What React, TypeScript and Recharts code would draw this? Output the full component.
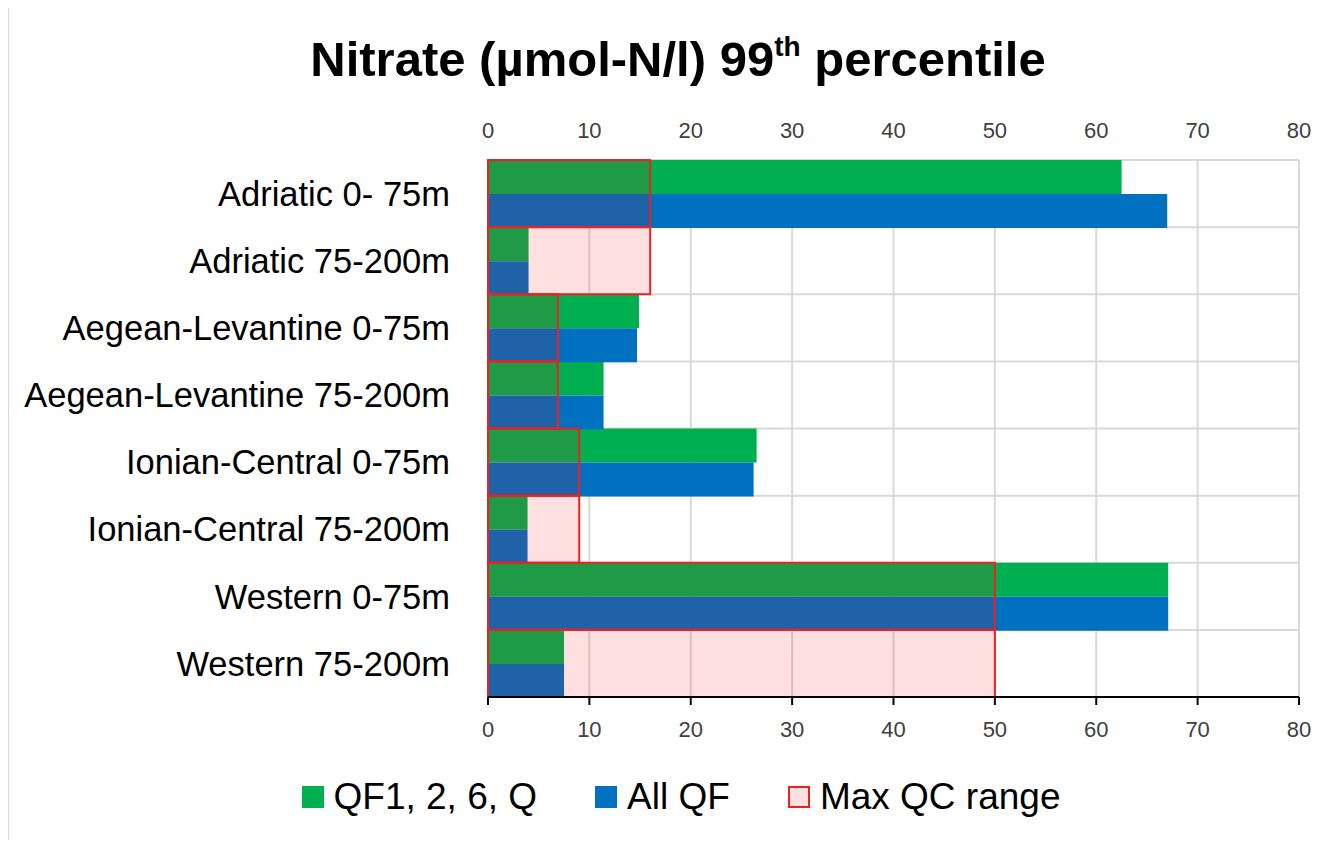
import React from 'react'
import { BarChart, Bar, XAxis, YAxis, CartesianGrid } from 'recharts'

// regions / depth layers, top to bottom
const categories = [
  'Adriatic 0- 75m',
  'Adriatic 75-200m',
  'Aegean-Levantine 0-75m',
  'Aegean-Levantine 75-200m',
  'Ionian-Central 0-75m',
  'Ionian-Central 75-200m',
  'Western 0-75m',
  'Western 75-200m',
]

// 99th percentile values (µmol-N/l)
const qfGood = [62.5, 4.0, 14.9, 11.4, 26.5, 3.9, 67.1, 7.5]
const qfAll = [67.0, 4.0, 14.7, 11.4, 26.2, 3.9, 67.1, 7.5]
const maxQcRange = [16, 16, 6.9, 6.9, 9, 9, 50, 50]

const xTicks = [0, 10, 20, 30, 40, 50, 60, 70, 80]

const seriesNames = ['QF1, 2, 6, Q', 'All QF', 'Max QC range']

const data = categories.map((name, i) => ({
  name,
  qf: qfGood[i],
  all: qfAll[i],
  qc: maxQcRange[i],
}))

const FONT = "'Liberation Sans', Arial, sans-serif"
const GREEN = '#00B050'
const BLUE = '#0070C0'
const GRID = '#d9d9d9'

// grid lines on the category boundaries, not the band centres
const bandLines = ({ offset }: any) => {
  const step = offset.height / categories.length
  return categories.map((_, i) => offset.top + i * step).concat(offset.top + offset.height)
}

const LegendItem = ({ color, border, label }: { color: string; border?: string; label: string }) => (
  <div style={{ display: 'flex', alignItems: 'center', gap: 10 }}>
    <span
      style={{
        display: 'inline-block',
        width: 22,
        height: 22,
        boxSizing: 'border-box',
        background: color,
        border: border ? `2px solid ${border}` : 'none',
      }}
    />
    <span>{label}</span>
  </div>
)

export default function App() {
  return (
    <div
      style={{
        position: 'relative',
        width: 1325,
        height: 848,
        margin: -8,
        overflow: 'hidden',
        background: '#fff',
        fontFamily: FONT,
      }}
    >
      <div
        style={{
          position: 'absolute',
          left: 7,
          top: 2,
          right: 0,
          bottom: 0,
          borderTop: `2px solid ${GRID}`,
          borderLeft: `2px solid ${GRID}`,
        }}
      />
      <div
        style={{
          position: 'absolute',
          top: 29,
          left: 0,
          width: 1356,
          textAlign: 'center',
          fontWeight: 'bold',
          fontSize: 49,
          lineHeight: '60px',
          color: '#000',
        }}
      >
        Nitrate (µmol-N/l) 99<sup style={{ fontSize: 28, verticalAlign: 20, lineHeight: 0 }}>th</sup> percentile
      </div>

      <div style={{ position: 'absolute', left: 0, top: 0 }}>
        <BarChart
          layout="vertical"
          width={1325}
          height={848}
          data={data}
          margin={{ top: 120, right: 26, bottom: 111, left: 18 }}
          barCategoryGap={0}
          barGap={0}
        >
          <CartesianGrid
            xAxisId="bottom"
            yAxisId="main"
            stroke={GRID}
            strokeWidth={2}
            horizontalCoordinatesGenerator={bandLines}
          />
          <XAxis
            xAxisId="bottom"
            type="number"
            orientation="bottom"
            domain={[0, 80]}
            ticks={xTicks}
            interval={0}
            height={40}
            fontSize={22}
            axisLine={{ stroke: '#000', strokeWidth: 2 }}
            tickLine={{ stroke: '#000', strokeWidth: 2 }}
            tickSize={8}
            tickMargin={16}
            tick={{ fontSize: 22, fill: '#404040', fontFamily: FONT }}
          />
          <XAxis
            xAxisId="top"
            type="number"
            orientation="top"
            domain={[0, 80]}
            ticks={xTicks}
            interval={0}
            height={40}
            fontSize={22}
            axisLine={false}
            tickLine={false}
            tickSize={0}
            tickMargin={22}
            tick={{ fontSize: 22, fill: '#404040', fontFamily: FONT }}
          />
          <YAxis
            yAxisId="main"
            type="category"
            dataKey="name"
            width={470}
            interval={0}
            axisLine={false}
            tickLine={false}
            tickSize={0}
            tickMargin={38}
            fontSize={34.5}
            tick={{ fontSize: 34.5, fill: '#000', fontFamily: FONT }}
          />
          <YAxis yAxisId="qc" type="category" dataKey="name" hide />
          <Bar xAxisId="bottom" yAxisId="main" dataKey="qf" name={seriesNames[0]} fill={GREEN} isAnimationActive={false} />
          <Bar xAxisId="bottom" yAxisId="main" dataKey="all" name={seriesNames[1]} fill={BLUE} isAnimationActive={false} />
          <Bar
            xAxisId="top"
            yAxisId="qc"
            dataKey="qc"
            name={seriesNames[2]}
            fill="#ff0000"
            fillOpacity={0.12}
            stroke="#f02020"
            strokeWidth={2}
            isAnimationActive={false}
          />
        </BarChart>
      </div>

      <div
        style={{
          position: 'absolute',
          top: 774,
          left: 0,
          width: 1362,
          display: 'flex',
          justifyContent: 'center',
          gap: 58,
          fontSize: 37,
          lineHeight: '46px',
          color: '#000',
        }}
      >
        <LegendItem color={GREEN} label={seriesNames[0]} />
        <LegendItem color={BLUE} label={seriesNames[1]} />
        <LegendItem color="#fde0e0" border="#f02020" label={seriesNames[2]} />
      </div>
    </div>
  )
}
